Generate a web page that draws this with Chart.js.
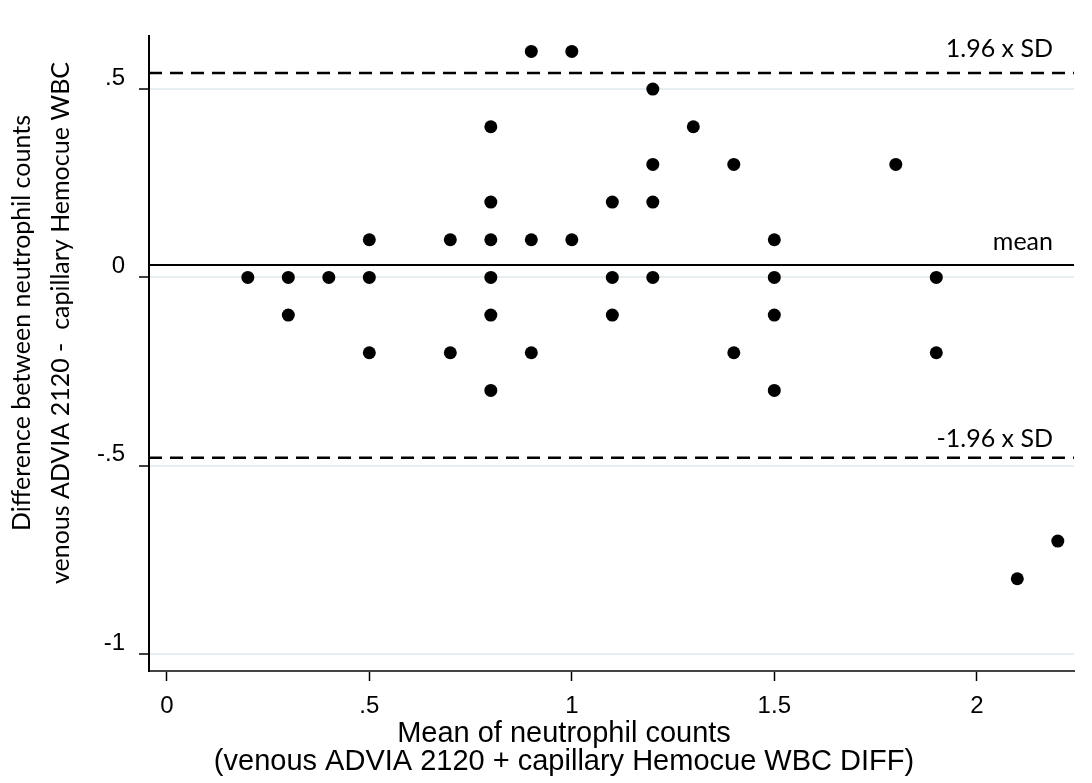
<!DOCTYPE html>
<html>
<head>
<meta charset="utf-8">
<script src="https://cdn.jsdelivr.net/npm/chart.js@4/dist/chart.umd.min.js"></script>
<style>
    body { margin: 0; background: #fff; }
    canvas { display: block; }
</style>
</head>
<body>
<canvas id="baChart" width="1092" height="783"></canvas>
<script>
// Bland-Altman points: mean of the two counts vs. their difference
const meanCounts = [0.2, 0.3, 0.3, 0.4, 0.5, 0.5, 0.5, 0.7, 0.7,
    0.8, 0.8, 0.8, 0.8, 0.8, 0.8, 0.9, 0.9, 0.9, 1.0, 1.0,
    1.1, 1.1, 1.1, 1.2, 1.2, 1.2, 1.2, 1.3, 1.4, 1.4,
    1.5, 1.5, 1.5, 1.5, 1.8, 1.9, 1.9, 2.1, 2.2];
const diffCounts = [0, 0, -0.1, 0, 0.1, 0, -0.2, 0.1, -0.2,
    0.4, 0.2, 0.1, 0, -0.1, -0.3, 0.6, 0.1, -0.2, 0.6, 0.1,
    0.2, 0, -0.1, 0.5, 0.3, 0.2, 0, 0.4, 0.3, -0.2,
    0.1, 0, -0.1, -0.3, 0.3, 0, -0.2, -0.8, -0.7];

const meanDiff = 0.033;
const upperLimit = 0.543;
const lowerLimit = -0.479;

const xTicks = [0, 0.5, 1, 1.5, 2];
const yTicks = [-1, -0.5, 0, 0.5];
const xMin = -0.044, xMax = 2.24;
const yMin = -1.045, yMax = 0.641;

const refLabels = [
    { value: upperLimit, text: '1.96 x SD', dy: -16 },
    { value: meanDiff, text: 'mean', dy: -15 },
    { value: lowerLimit, text: '-1.96 x SD', dy: -11 }
];

const yTitle = ['Difference between neutrophil counts', 'venous ADVIA 2120 -  capillary Hemocue WBC'];
const xTitle = ['Mean of neutrophil counts', '(venous ADVIA 2120 + capillary Hemocue WBC DIFF)'];

const points = meanCounts.map((x, i) => ({ x: x, y: diffCounts[i] }));
const hLine = v => [{ x: xMin, y: v }, { x: xMax, y: v }];

const fmt = v => String(v).replace(/^0\./, '.').replace(/^-0\./, '-.');

const tickFont = { family: '"Liberation Sans", Arial, sans-serif', size: 24 };

const textPlugin = {
    id: 'textPlugin',
    afterDraw(chart) {
        const ctx = chart.ctx;
        const y = chart.scales.y;
        ctx.save();
        ctx.fillStyle = '#000';

        // labels over the reference lines
        ctx.font = '25px Lato';
        ctx.textAlign = 'right';
        ctx.textBaseline = 'alphabetic';
        refLabels.forEach(l => {
            ctx.fillText(l.text, 1053, y.getPixelForValue(l.value) + l.dy);
        });

        // x title
        ctx.font = '29px "Liberation Sans", Arial, sans-serif';
        ctx.textAlign = 'center';
        ctx.fillText(xTitle[0], 564, 742);
        ctx.fillText(xTitle[1], 564, 770);

        // y title, rotated
        ctx.translate(0, 323);
        ctx.rotate(-Math.PI / 2);
        ctx.font = '25px Lato';
        ctx.textBaseline = 'middle';
        ctx.fillText(yTitle[0], 0, 22);
        ctx.fillText(yTitle[1], 0, 61);
        ctx.restore();
    }
};

new Chart(document.getElementById('baChart'), {
    type: 'scatter',
    data: {
        datasets: [
            {
                label: 'points',
                data: points,
                backgroundColor: '#000',
                borderWidth: 0,
                pointRadius: 6.5,
                pointHoverRadius: 6.5,
                order: 0
            },
            {
                label: 'mean',
                type: 'line',
                data: hLine(meanDiff),
                borderColor: '#000',
                borderWidth: 2,
                pointRadius: 0,
                order: 1
            },
            {
                label: 'upper',
                type: 'line',
                data: hLine(upperLimit),
                borderColor: '#000',
                borderWidth: 2.5,
                borderDash: [13, 8],
                pointRadius: 0,
                order: 1
            },
            {
                label: 'lower',
                type: 'line',
                data: hLine(lowerLimit),
                borderColor: '#000',
                borderWidth: 2.5,
                borderDash: [13, 8],
                pointRadius: 0,
                order: 1
            }
        ]
    },
    options: {
        responsive: false,
        animation: false,
        layout: { padding: { left: 0, right: 18, top: 36, bottom: 0 } },
        plugins: {
            legend: { display: false },
            tooltip: { enabled: false }
        },
        scales: {
            x: {
                type: 'linear',
                min: xMin,
                max: xMax,
                afterBuildTicks: s => { s.ticks = xTicks.map(v => ({ value: v })); },
                afterFit: s => { s.height = 112; },
                border: { color: '#444', width: 2 },
                grid: {
                    drawOnChartArea: false,
                    tickLength: 10,
                    tickColor: '#000',
                    tickWidth: 1.5
                },
                ticks: {
                    color: '#000',
                    font: tickFont,
                    padding: 11,
                    maxRotation: 0,
                    callback: v => fmt(v)
                }
            },
            y: {
                type: 'linear',
                min: yMin,
                max: yMax,
                afterBuildTicks: s => { s.ticks = yTicks.map(v => ({ value: v })); },
                afterFit: s => { s.width = 149; },
                border: { color: '#000', width: 2 },
                grid: {
                    color: '#e6eef1',
                    lineWidth: 2,
                    tickLength: 10,
                    tickColor: '#000',
                    tickWidth: 1.5
                },
                ticks: {
                    color: '#000',
                    font: tickFont,
                    padding: 14,
                    labelOffset: -11,
                    callback: v => fmt(v)
                }
            }
        }
    },
    plugins: [textPlugin]
});
</script>
</body>
</html>
